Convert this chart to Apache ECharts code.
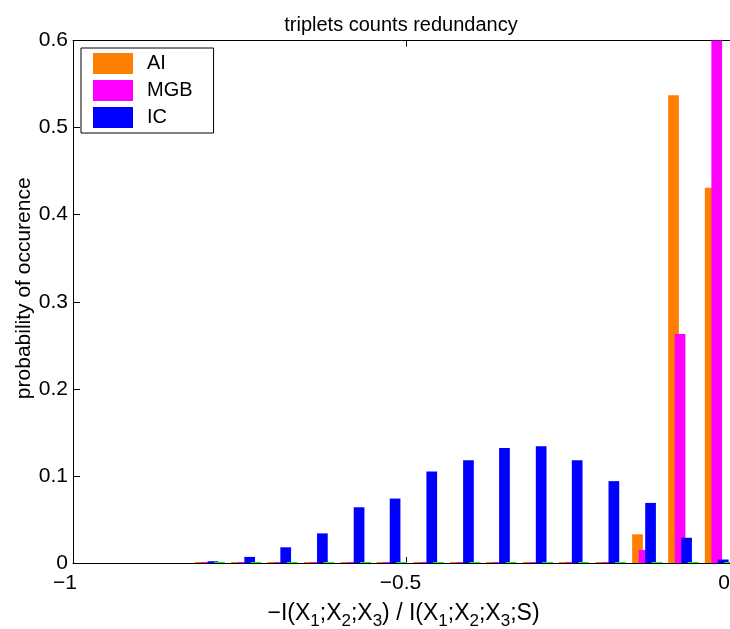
<!DOCTYPE html>
<html><head><meta charset="utf-8">
<script src="https://cdn.jsdelivr.net/npm/echarts@6/dist/echarts.min.js"></script>
<style>html,body{margin:0;padding:0;background:#fff}#c{width:730px;height:629px}</style>
</head><body><div id="c"></div>
<script>
// histogram bin centres (x) and probabilities per method
const binCenters = [-0.795, -0.740, -0.686, -0.631, -0.576, -0.522, -0.467, -0.412, -0.358, -0.303, -0.249, -0.194, -0.139, -0.085, -0.030];
const aiValues   = [0, 0, 0, 0, 0, 0, 0, 0, 0, 0, 0, 0.001, 0.033, 0.537, 0.431];
const mgbValues  = [0, 0, 0, 0, 0, 0, 0, 0, 0, 0, 0, 0, 0.015, 0.263, 0.722];
const icValues   = [0.002, 0.007, 0.018, 0.034, 0.064, 0.074, 0.105, 0.118, 0.132, 0.134, 0.118, 0.094, 0.069, 0.029, 0.004];
const fourthValues = [0, 0, 0, 0, 0, 0, 0, 0, 0, 0, 0, 0, 0, 0, 0];
const seriesNames = ['AI', 'MGB', 'IC', 'other'];
const xTickLabels = {'-1': '−1', '-0.5': '−0.5', '0': '0'};
const titleText = 'triplets counts redundancy';
const xName = '−I(X{s|1};X{s|2};X{s|3}) / I(X{s|1};X{s|2};X{s|3};S)';
const yName = 'probability of occurence';

const FONT = 'Liberation Sans';
const colors = ['#FF8000', '#FF00FF', '#0000FF', '#00FF00'];
const chart = echarts.init(document.getElementById('c'), null, {renderer: 'canvas'});

function mk(name, vals, color) {
  return {
    name: name, type: 'bar', xAxisIndex: 0, yAxisIndex: 0,
    data: binCenters.map((x, i) => [x, vals[i]]),
    barWidth: 10.7, barGap: '-39%', barMinHeight: 1,
    itemStyle: {color: color}, clip: true, animation: false
  };
}

const xLabelRich = {
  a: {fontSize: 21, fontFamily: FONT, color: '#000', padding: [0, 16, 0, 0]},
  b: {fontSize: 21, fontFamily: FONT, color: '#000', padding: [0, 12, 0, 0]},
  c: {fontSize: 21, fontFamily: FONT, color: '#000', padding: [0, 32, 0, 0]}
};

chart.setOption({
  animation: false,
  backgroundColor: '#fff',
  textStyle: {fontFamily: FONT},
  title: {
    text: titleText, left: 396, top: 10, textAlign: 'center',
    textStyle: {fontSize: 20, fontWeight: 'normal', color: '#000', fontFamily: FONT}
  },
  legend: {
    data: ['AI', 'MGB', 'IC'], orient: 'vertical', left: 81, top: 48,
    padding: [5, 21, 5, 12], itemWidth: 40, itemHeight: 21, itemGap: 6,
    borderColor: '#000', borderWidth: 1, backgroundColor: '#fff',
    icon: 'rect',
    textStyle: {fontSize: 20, color: '#000', fontFamily: FONT, padding: [0, 0, 0, 9], lineHeight: 21}
  },
  grid: {left: 73, top: 40.5, right: -10, bottom: 66, containLabel: false, outerBoundsMode: 'none'},
  xAxis: [{
    type: 'value', min: -1, max: 0, interval: 0.5, position: 'bottom',
    splitLine: {show: false},
    axisLine: {show: true, onZero: false, lineStyle: {color: '#000', width: 1}},
    axisTick: {show: true, inside: true, length: 6, lineStyle: {color: '#000'}},
    axisLabel: {
      margin: 10, color: '#000', fontSize: 21, fontFamily: FONT,
      formatter: function (v) {
        const key = String(v);
        const t = xTickLabels[key] || key;
        const st = key === '-1' ? 'a' : (key === '0' ? 'c' : 'b');
        return '{' + st + '|' + t + '}';
      },
      rich: xLabelRich
    },
    name: xName, nameLocation: 'middle', nameGap: 35, nameMoveOverlap: false,
    nameTextStyle: {
      fontSize: 23, color: '#000', fontFamily: FONT, padding: [0, 6, 0, 0],
      rich: {s: {fontSize: 17, fontFamily: FONT, color: '#000', padding: [15, 0, 0, 0]}}
    }
  }, {
    type: 'value', min: -1, max: 0, interval: 0.5, position: 'top',
    splitLine: {show: false},
    axisLine: {show: true, onZero: false, lineStyle: {color: '#000', width: 1}},
    axisTick: {show: true, inside: true, length: 6, lineStyle: {color: '#000'}},
    axisLabel: {show: false}
  }],
  yAxis: [{
    type: 'value', min: 0, max: 0.6, interval: 0.1,
    splitLine: {show: false},
    axisLine: {show: true, onZero: false, lineStyle: {color: '#000', width: 1}},
    axisTick: {show: true, inside: true, length: 7, lineStyle: {color: '#000'}},
    axisLabel: {margin: 5, color: '#000', fontSize: 21, fontFamily: FONT},
    name: yName, nameLocation: 'middle', nameGap: 38, nameMoveOverlap: false,
    nameTextStyle: {fontSize: 21, color: '#000', fontFamily: FONT, padding: [0, 0, 0, 27]}
  }],
  series: [
    mk(seriesNames[0], aiValues, colors[0]),
    mk(seriesNames[1], mgbValues, colors[1]),
    mk(seriesNames[2], icValues, colors[2]),
    mk(seriesNames[3], fourthValues, colors[3])
  ]
});
</script></body></html>
